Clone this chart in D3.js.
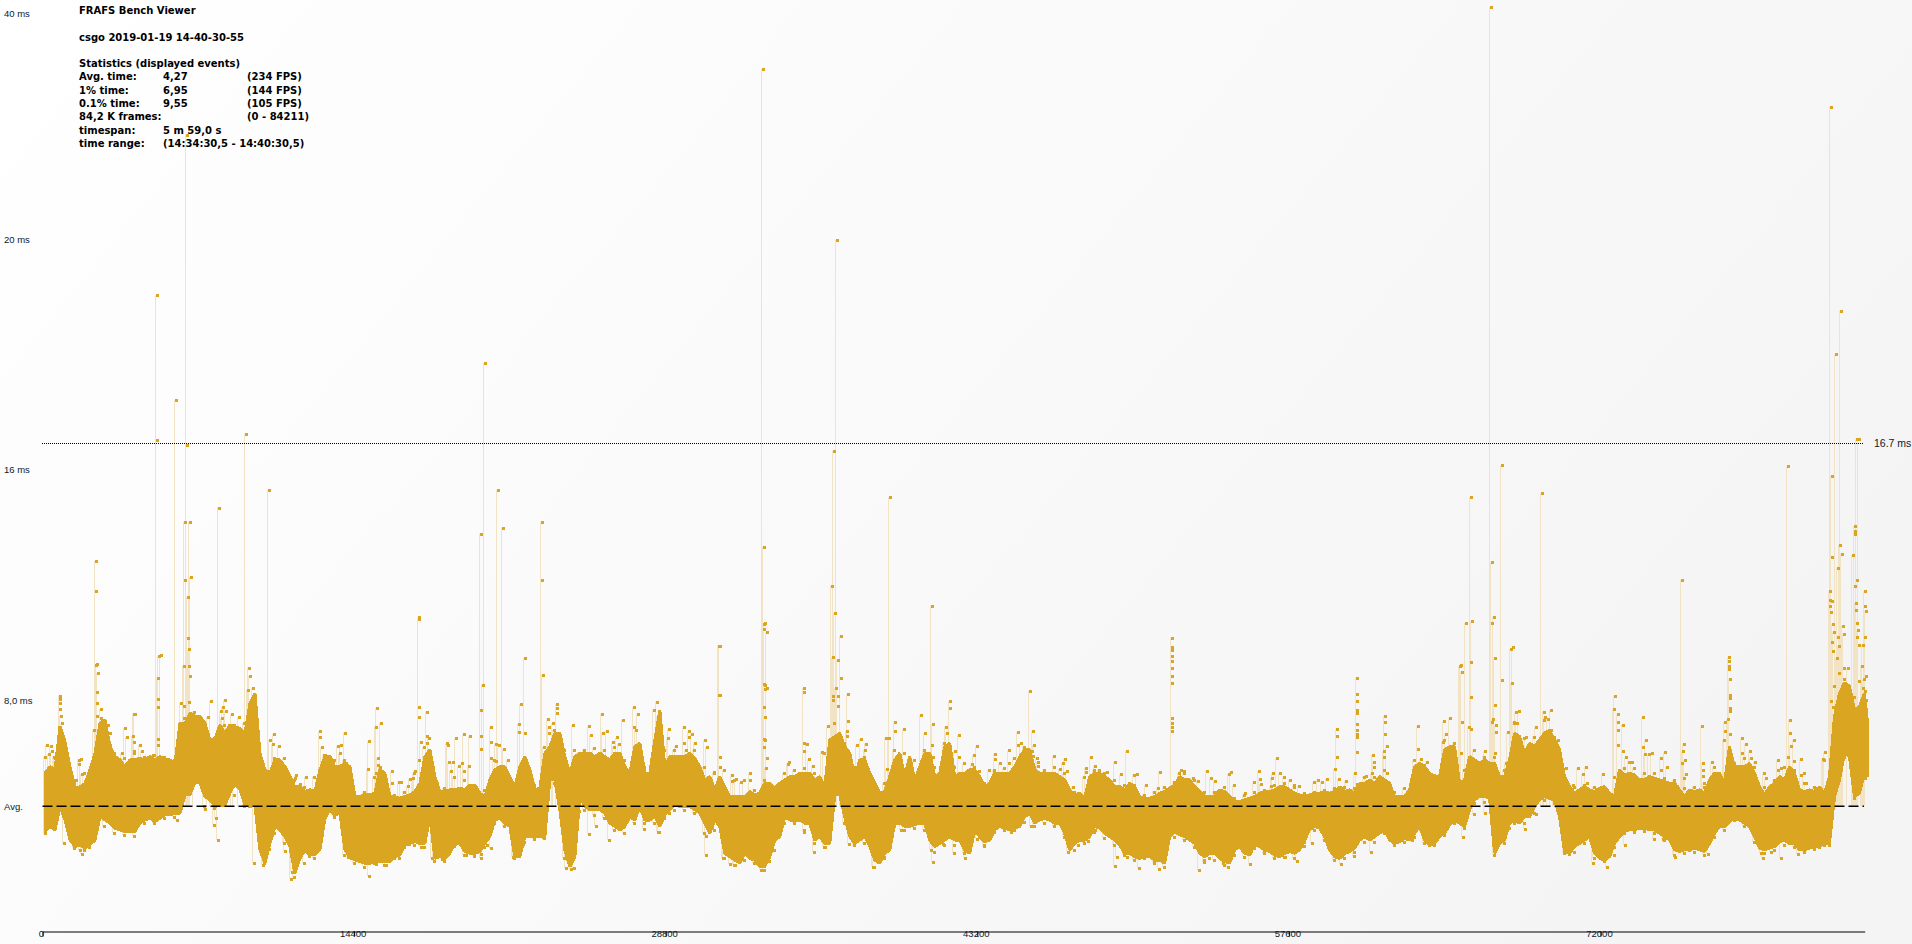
<!DOCTYPE html>
<html><head><meta charset="utf-8">
<style>html,body{margin:0;padding:0;background:#fff;overflow:hidden}svg{display:block}</style>
<script src="https://cdn.jsdelivr.net/npm/d3@7"></script></head><body>
<script>
const frameCount = 84211, columnStep = 462;
// upper edge of the dense frame-time band (ms), one value per column
const upperEnvelope = [
5.44,5.56,6.56,4.91,5.08,6.15,7.33,6.03,5.67,5.91,5.91,5.91,5.91,5.79,7.21,7.45,7.21,6.62,6.86,7.09,6.86,8.27,5.56,5.91,5.67,4.96,4.79,4.79,6.03,5.67,5.79,
4.61,4.67,4.73,5.44,4.61,4.61,4.79,6.03,5.32,4.79,4.85,4.85,5.02,4.61,5.56,5.67,4.96,6.03,4.85,6.15,6.86,6.03,6.03,6.15,6.03,6.03,6.15,5.67,6.38,5.44,6.62,
5.67,6.03,6.03,5.97,5.20,4.85,4.96,4.61,4.61,4.67,5.08,4.91,5.20,5.32,5.44,5.20,4.96,6.74,6.38,5.32,5.91,5.08,4.79,5.91,5.32,5.20,6.15,5.32,6.38,5.32,5.44,
5.56,4.96,5.44,5.44,5.67,6.27,5.56,5.44,5.44,5.20,4.67,4.55,5.44,5.32,4.96,4.85,4.96,4.55,4.61,4.79,5.02,5.20,4.96,4.61,4.61,4.79,4.43,4.49,4.61,4.79,4.85,
4.96,4.73,4.61,4.73,4.79,4.79,4.79,4.73,5.08,5.08,5.20,4.61,4.61,5.67,5.67,5.32,6.27,6.38,5.20,5.91,5.91,5.79,5.32,6.86,6.15,6.38,6.86,6.62,5.32,4.73,4.96,
4.79,4.96,4.61,5.38,5.38,5.20,5.26,5.14,5.08,4.61,4.79,4.73,5.44,5.08,5.67,5.67,5.44,4.67,5.08,5.20,5.44,4.79,4.79,4.73,7.45,8.63,7.68,8.27];
// lower edge of the dense band (ms)
const lowerEnvelope = [
3.37,3.43,3.78,2.84,2.78,3.07,3.78,3.49,3.37,3.37,3.78,3.72,3.96,4.02,4.67,5.14,4.61,4.26,4.31,5.08,4.31,4.31,2.25,3.55,3.19,1.89,2.72,2.54,3.84,3.96,2.72,
2.36,2.25,2.31,2.31,2.48,2.90,3.01,2.95,2.42,2.42,2.95,2.66,2.60,2.95,3.78,3.67,2.48,3.19,3.19,3.19,5.20,2.72,2.48,4.26,4.14,4.02,3.55,3.55,3.78,3.78,3.90,
3.96,4.31,4.26,4.14,3.67,3.78,2.60,2.36,2.60,2.36,2.13,3.07,3.90,3.78,3.67,3.07,2.95,4.67,3.90,2.95,3.19,2.36,2.60,3.67,3.55,3.61,3.67,2.84,3.07,3.07,2.72,
3.43,3.01,3.43,3.49,3.49,3.90,3.67,3.84,3.67,3.31,2.95,3.07,3.55,3.31,3.07,2.60,2.48,2.48,2.36,2.25,3.37,3.19,2.95,2.48,2.60,2.31,2.72,2.60,2.90,2.72,2.54,
2.60,2.60,3.07,3.55,3.19,2.48,2.60,2.78,3.19,3.19,3.43,2.95,3.13,3.31,3.07,2.95,3.31,3.78,3.55,4.49,4.61,2.60,3.07,3.78,3.90,4.26,4.61,4.49,2.66,2.84,3.07,
2.60,2.36,2.95,3.37,3.43,3.49,3.43,3.19,2.72,2.72,2.78,2.66,3.31,3.55,3.84,3.67,3.19,2.72,2.84,3.07,2.95,2.72,2.84,2.95,4.61,6.15,4.61,5.44];
// the same two edges read halfway between columns
const upperBetween = [
5.67,7.09,5.67,4.96,5.56,7.21,6.38,5.91,5.91,5.97,6.03,6.03,5.91,7.21,7.57,7.45,6.62,7.15,7.15,7.03,7.92,6.15,5.44,5.91,5.32,4.96,4.85,5.56,6.03,5.67,5.67,
4.61,4.67,5.56,4.61,4.55,4.67,5.08,6.27,4.79,4.85,4.91,5.02,4.73,5.20,5.67,5.32,5.67,5.56,4.91,6.38,6.86,5.44,6.15,6.15,6.15,5.91,6.15,5.44,6.50,5.44,7.68,
6.03,6.03,6.15,5.67,5.32,5.32,4.61,4.61,4.79,4.73,5.08,5.08,5.32,5.44,5.44,5.32,6.62,6.86,6.15,5.91,5.44,4.73,5.32,6.15,6.03,5.67,6.15,5.44,6.50,5.44,5.56,
5.32,5.08,5.44,5.44,6.03,6.27,5.44,5.44,5.32,4.85,4.73,5.32,5.44,5.20,4.96,5.08,4.61,4.55,4.73,4.91,5.32,5.20,4.79,4.61,4.85,4.61,4.43,4.55,4.73,4.79,4.96,
4.85,4.67,4.67,4.73,4.73,4.96,4.85,5.08,5.20,5.32,5.08,4.61,4.85,5.79,5.44,5.32,6.38,5.08,6.03,5.79,5.79,5.32,5.91,6.74,6.50,6.62,6.97,6.27,4.96,4.85,4.85,
4.91,4.73,5.56,5.44,5.20,5.32,5.20,5.08,4.85,4.85,4.85,5.20,5.44,6.38,5.67,5.79,4.96,4.96,5.32,5.67,4.85,4.85,4.96,5.32,8.27,8.51,7.80,7.33];
const lowerBetween = [
3.55,4.26,3.07,2.90,2.90,3.90,3.67,3.43,3.37,3.67,3.84,3.84,3.96,4.02,4.67,5.08,4.49,4.31,4.73,4.85,4.26,2.72,2.95,3.43,2.84,2.42,2.54,2.72,4.14,4.02,2.48,
2.31,2.25,2.31,2.31,2.54,2.95,2.95,3.90,2.48,2.60,2.95,2.60,2.66,3.19,3.84,3.55,2.48,3.19,3.19,5.20,4.14,2.13,4.61,4.14,4.14,3.67,3.43,3.90,4.26,3.78,3.55,
4.14,4.26,4.26,4.02,3.31,3.55,2.48,2.25,2.42,2.13,2.48,3.19,3.78,3.78,3.67,3.19,2.95,4.67,3.19,3.07,2.84,2.25,2.72,3.67,3.55,3.67,3.07,2.95,3.19,3.07,2.60,
3.19,3.07,3.55,3.43,3.55,4.02,3.78,3.78,3.67,2.72,3.07,3.19,3.49,3.19,2.90,2.60,2.42,2.48,2.36,3.19,3.25,3.07,2.60,2.60,2.42,2.25,2.84,2.54,2.84,2.66,2.48,
2.66,2.72,3.43,3.49,2.72,2.42,2.66,3.07,3.07,3.31,3.07,3.01,3.07,3.55,2.90,3.19,3.61,3.67,4.14,4.61,4.55,2.95,3.67,3.67,3.90,4.49,4.55,3.90,2.60,2.95,3.19,
2.42,2.48,3.19,3.43,3.49,3.43,3.31,3.07,2.66,2.72,2.72,2.95,3.55,3.72,3.78,3.55,2.78,2.78,3.01,2.95,2.72,2.78,2.84,2.95,5.20,6.03,4.73,5.32];
// outermost frames seen just beyond each edge, per column (ms)
const upperFringe = [
6.03,6.03,6.15,5.08,5.44,6.97,6.50,6.15,5.97,6.15,6.03,6.09,6.03,5.91,7.39,7.62,7.15,6.68,7.15,7.15,7.21,8.04,5.20,5.97,5.67,5.20,4.96,5.32,6.09,5.91,5.91,
4.79,4.79,5.32,4.85,4.67,4.79,5.44,6.38,5.02,4.91,5.32,5.20,5.02,4.85,5.91,5.56,5.08,5.91,5.02,6.38,6.97,6.27,6.27,6.27,6.33,6.27,6.38,5.91,7.09,5.67,7.68,
6.27,6.27,6.50,6.27,5.67,5.44,5.56,5.20,5.20,4.85,5.20,4.85,5.44,5.56,5.62,5.44,6.15,7.21,6.50,5.67,6.03,5.14,5.08,6.27,6.15,5.91,6.27,5.67,6.50,5.67,5.79,
5.67,5.08,5.56,5.62,5.97,6.38,5.67,5.56,5.67,5.44,4.79,5.32,5.56,5.44,5.20,5.02,5.02,4.67,4.79,4.96,5.14,5.44,5.20,4.79,4.79,4.96,4.55,4.67,4.79,4.85,5.02,
5.08,4.96,4.73,4.79,4.85,4.91,4.96,4.91,5.32,5.32,5.56,4.79,4.91,5.91,5.73,5.38,6.62,6.50,5.56,6.27,6.03,6.03,5.56,7.21,6.68,6.74,7.33,6.74,5.20,4.96,5.02,
4.96,4.96,5.32,5.62,5.62,5.44,5.44,5.26,5.20,4.91,4.96,4.96,5.67,6.62,5.79,5.97,5.67,4.96,5.20,5.67,5.56,5.08,4.96,5.91,8.51,8.75,8.15,8.75];
const lowerFringe = [
3.31,3.55,2.95,2.78,2.72,3.19,3.55,3.33,3.25,3.22,3.67,3.67,3.84,3.90,4.61,5.08,4.26,4.20,4.37,4.67,4.26,2.25,2.25,3.31,2.95,1.77,2.25,2.42,3.90,3.90,2.54,
2.25,2.13,2.25,2.19,2.42,2.81,2.90,2.84,2.34,2.34,2.86,2.54,2.51,2.81,3.67,3.55,2.42,3.01,3.10,3.13,5.08,2.42,2.07,4.14,3.96,3.84,3.43,3.31,3.67,3.67,3.67,
3.84,4.14,4.14,4.02,3.31,3.43,2.42,2.19,2.36,2.25,2.01,2.72,3.67,3.67,3.43,2.95,2.84,4.49,3.67,2.90,2.95,2.13,2.42,3.55,3.43,3.49,3.43,2.66,2.90,2.90,2.60,
3.31,2.90,3.37,3.43,3.43,3.72,3.55,3.67,3.55,3.19,2.72,2.95,3.37,3.13,2.90,2.54,2.36,2.42,2.25,2.13,3.19,3.07,2.84,2.36,2.36,2.19,2.54,2.48,2.78,2.60,2.42,
2.48,2.42,3.01,3.43,3.07,2.36,2.42,2.66,3.01,3.01,3.31,2.90,3.01,3.19,2.95,2.90,3.25,3.67,3.49,4.37,4.43,2.54,2.95,3.67,3.67,4.02,4.49,4.37,2.60,2.66,2.95,
2.42,2.31,2.84,3.31,3.37,3.40,3.33,3.07,2.54,2.60,2.66,2.54,3.19,3.43,3.78,3.55,3.01,2.60,2.72,2.90,2.84,2.63,2.74,2.90,4.49,6.03,4.55,5.32];
// tall isolated frames [frame, ms]
const spikeFrames = [
[5190,19.1],[5190,16.75],[5300,9.55],[6091,17.4],[6587,29.3],[6598,16.65],[6485,14.2],[6485,12.2],[6711,14.2],[6767,12.3],[6654,11.6],[8063,14.7],[9303,16.85],[10373,15.3],[2372,12.85],[2372,11.8],[2372,9.25],[17304,10.85],[20178,13.8],[20347,18.0],[20967,15.3],[21193,14],[22996,14.2],[22996,12.2],[31167,9.9],[31167,8.2],[33195,35.1],[33251,13.35],[33251,10.65],[33251,10.5],[33308,8.55],[33308,8.4],[36464,16.5],[36407,12.0],[36633,20],[39056,15.05],[41028,11.3],[66835,40.6],[65934,15.05],[67341,16.13],[66892,12.8],[66892,10.7],[69203,15.2],[75683,12.2],[80586,16.1],[82558,31.8],[82614,15.8],[82614,13],[82783,18.15],[83009,18.85],[83741,16.77],[83854,16.77],[83684,13.9],[83572,13.05],[65429,9.2],[65711,10.7],[67794,9.8],
[82990,13.4],[83090,13.1],[82900,12.6],[82530,11.8],[82530,11.5],[82620,11.45],[82530,11.3],[83680,14.05],[83680,13.8],[83770,12.2],[83680,12],[84150,11.8],[83730,11.4],[84150,11.3],[83130,10.6],[82650,10.65],[83770,10.7],[82620,10.05],[82900,10.2],[83770,10.2],[84140,10.2]];
// scattered frames above and below the band [frame, ms]
const scatterA = [
[110,6.44],[309,6.41],[186,6.12],[340,6.21],[463,5.97],[694,8.19],[694,8.06],[725,7.92],[725,7.72],[740,7.47],[817,7.21],[879,6.56],[1033,5.97],[1079,5.82],[1587,5.91],[1695,5.93],[1587,5.77],[1726,5.40],[1464,5.20],[2419,9.27],[2465,8.98],[2419,8.31],[2419,7.92],[2588,7.71],[2419,7.47],[2619,7.39],[2927,7.15],[2773,7.13],[3035,6.88],[2819,6.68],[2773,6.41],[3035,6.44],[3589,6.15],[3712,7.03],[3805,6.73],[4082,6.76],[4128,7.53],[4205,7.53],[4159,6.53],[4421,6.44],[4159,6.21],[4513,6.22],[5237,8.81],[5237,8.06],[5237,7.80],[5376,9.61],[5237,6.64],[5237,6.44],[5006,6.09],[6438,9.22],[6669,9.22],[6623,10.19],[6669,9.79],[6746,8.87],[6300,7.94],[6454,7.83],[6700,7.98],[7686,8.01],[8332,8.04],[8148,7.65],[8240,7.80],[8394,7.65],[8656,7.54],[8209,7.39],[8979,7.42],[7547,7.42],[9472,9.16],[9503,8.87],[9410,8.39],[9626,8.45],[10596,6.82],[10427,6.62],[10550,6.47],[10827,6.41],[11058,5.97],[11628,5.36],[11597,5.26],[12090,5.30],[11828,5.06],[12721,6.93],[12721,6.71],[12814,6.36],[12983,6.09],[13322,5.91],[13907,6.88],[13707,6.44],[13584,6.41],[13676,6.15],[13938,5.79],
[1726,2.57],[1618,2.70],[2049,2.81],[6115,3.78],[7408,4.16],[7932,3.84],[7855,3.61],[8024,3.07],[10088,2.19],[10119,2.46],[10396,2.76],[11104,2.68],[11428,1.95],[11382,1.68],[11628,2.28],[12244,2.51],[12521,2.66],[14015,2.48]];
const scatterB = [
[15358,7.74],[15543,7.21],[15342,7.09],[14988,6.57],[15404,5.97],[15404,5.73],[14942,5.58],[15512,5.67],[15327,5.44],[15512,5.38],[16051,5.51],[16066,5.08],[16374,5.12],[16482,5.14],[16913,5.23],[16790,5.0],[17144,5.52],[17021,5.26],[17329,10.9],[17329,7.78],[17329,7.45],[17668,7.62],[17391,6.56],[17329,5.91],[17668,6.76],[17791,6.68],[17668,6.50],[18130,5.08],[18592,6.50],[18638,6.43],[18684,5.83],[19008,6.68],[19377,6.82],[19654,6.75],[18900,5.83],[19146,5.70],[19285,5.79],[19639,5.71],[19408,5.53],[18792,5.52],[20255,8.57],[20163,7.67],[20163,6.77],[20163,6.29],[20625,7.07],[20625,6.56],[20871,6.47],[20625,5.97],[21025,6.44],[21225,6.30],[20871,5.89],[21441,5.91],[21302,5.62],[22195,9.48],[22011,7.88],[21949,7.18],[21918,6.89],[22226,6.88],[23027,8.91],[23258,7.36],[23304,7.09],[23304,6.87],[23673,7.88],[23673,7.74],[23673,7.57],[23520,7.21],[24444,7.14],[25183,7.10],[25260,6.79],[25753,7.54],[25830,6.88],[25984,6.94],[26723,7.32],[26446,6.71],[26261,6.53],[26538,6.47],[27262,7.78],[27416,7.54],[27339,6.97],[28294,7.97],[28340,7.45],
[14988,1.79],[14172,2.42],[15635,2.48],[15327,2.22],[15789,2.19],[16405,2.42],[17406,2.84],[16867,2.92],[17899,2.42],[18376,2.39],[18992,2.92],[19485,2.54],[20178,2.42],[20440,2.90],[20625,2.78],[20178,2.58],[21641,2.48],[22134,2.92],[23027,3.19],[24336,2.42],[24336,2.03],[24105,2.07],[24690,4.09],[25183,3.29],[25491,3.57],[26107,3.07],[26569,3.52],[27724,3.46],[28340,3.37]];
const scatterC = [
[28851,7.0],[29575,7.07],[28805,6.68],[28528,6.64],[29775,6.92],[29775,6.71],[29914,6.83],[29652,6.27],[29190,6.41],[30083,6.50],[30545,6.61],[30607,6.36],[31223,9.91],[31223,8.20],[31223,6.03],[31223,5.67],[30930,5.47],[31762,5.37],[31762,5.17],[31947,5.23],[32193,5.12],[32609,5.43],[32609,5.20],[33286,10.69],[33379,10.38],[33240,8.58],[33379,8.44],[33240,7.79],[33286,7.42],[33240,6.64],[33286,6.60],[33240,6.36],[33379,5.97],[33348,5.62],[34426,5.82],[34349,5.77],[35088,8.45],[35088,8.31],[35088,6.50],[35227,6.47],[35088,6.22],[35319,5.93],[35535,5.70],[35920,6.18],[36197,7.10],[36520,11.06],[36798,10.26],[36443,9.52],[36659,9.43],[36798,8.81],[36567,8.44],[36443,8.19],[36659,8.17],[36428,8.04],[36659,7.84],[37121,8.24],[37121,7.28],[37075,6.93],[37075,6.77],[37722,6.64],[37537,6.43],[37953,6.48],[37937,6.27],[38892,6.69],[39015,6.70],[39308,7.25],[39323,6.95],[39724,7.0],[38923,5.59],[40494,7.50],[40678,6.86],[41048,7.18],[41002,6.43],[41048,6.0],[41048,5.67],[41833,8.0],[41833,7.74],[41664,7.09],[42249,6.79],[41695,6.88],[42095,6.21],[42280,6.03],
[28851,4.02],[28420,3.37],[30576,3.22],[30576,2.54],[30838,3.52],[31346,2.42],[31700,2.22],[31931,2.19],[33117,2.01],[33471,2.34],[33548,2.74],[35088,3.37],[35550,2.66],[36074,2.81],[37167,2.92],[38276,2.13],[38815,2.46],[39585,3.43],[40971,2.72],[41048,2.29],[41541,2.93],[42018,2.60],[42526,2.45]];
const scatterD = [
[43084,6.40],[42945,6.08],[42853,5.76],[43207,5.52],[43638,5.54],[43915,6.11],[43946,5.93],[44147,5.79],[44562,6.25],[44562,5.79],[44978,6.89],[44978,6.43],[45117,6.50],[45532,8.35],[45671,6.93],[45733,6.43],[45625,6.22],[45671,6.05],[45856,5.99],[45902,5.85],[45902,5.71],[46641,6.04],[47149,5.94],[47088,5.79],[46934,5.58],[47242,5.51],[47550,4.94],[48120,5.62],[48120,5.50],[48381,6.0],[48535,5.69],[48751,5.56],[49090,5.50],[49459,5.85],[49737,5.40],[50014,6.24],[50476,5.40],[50368,5.37],[50892,5.02],[51538,5.50],[51446,4.93],
[52100,10.19],[52100,9.87],[52100,9.75],[52100,9.55],[52100,9.40],[52100,9.16],[52100,8.88],[52100,8.63],[52100,7.39],[52100,7.23],[52100,7.09],[52100,6.93],
[52678,5.51],[52509,5.54],[52416,5.44],[53094,5.28],[53294,5.18],[53710,5.53],[53895,5.28],[54079,5.18],[54172,4.79],[54849,5.47],[54726,5.40],[54957,5.01],[55466,4.73],[55881,5.12],[56112,5.51],[56189,5.23],[56204,5.06],[56944,5.97],[56759,5.44],[56713,5.28],[56682,4.97],
[43084,3.12],[43407,2.85],[44655,3.35],[45594,3.55],[47288,2.66],[47781,2.90],[48212,3.02],[48566,3.43],[49459,2.14],[49552,2.46],[50014,2.48],[50568,2.07],[51261,2.28],[51492,2.06],[53340,2.0],[53572,2.28],[53802,2.45],[54680,2.10],[54449,2.25],[55697,2.21],[56374,2.66],[56836,2.42]];
const scatterE = [
[57101,5.46],[57270,5.30],[57563,5.20],[57732,5.02],[57963,4.97],[58841,5.20],[59026,5.14],[59257,5.23],[58687,5.11],[59719,7.0],[59719,6.77],[59719,6.0],[59657,5.58],[59811,5.23],[60135,5.15],[60643,8.81],[60643,8.25],[60643,8.01],[60643,7.68],[60643,7.57],[60643,7.19],[60643,6.97],[60643,6.83],[60643,6.74],[60643,6.18],[60581,5.44],[60643,5.06],[60643,4.87],[61059,5.34],[61382,6.08],[61428,5.85],[61428,5.67],[61336,5.44],[61936,7.46],[61936,7.25],[61936,6.83],[62029,6.41],[61890,6.21],[61890,6.03],[62029,5.46],[63461,7.10],[63461,6.29],[63600,5.95],[63877,5.85],[63784,5.53],[64670,7.28],[64949,7.38],[64755,6.82],[64616,6.56],[65448,9.23],[65494,9.02],[65494,7.25],[65448,6.15],[65956,10.77],[65910,9.34],[65910,8.13],[65910,7.0],[65817,7.09],[66556,6.22],[66972,10.91],[67018,9.48],[67342,8.72],[67018,7.85],[66926,7.35],[66880,7.25],[67064,7.14],[67064,6.89],[67018,6.15],[67064,5.58],[67850,9.86],[67804,8.63],[67989,7.60],[68127,7.65],[67896,7.27],[68066,7.21],[67619,6.89],[67542,5.79],[68928,7.07],[68481,6.71],[69282,7.62],[69606,7.67],[69328,7.42],[69467,7.35],[69606,6.97],[69929,6.61],[70299,5.62],[70853,5.62],[71253,5.65],[71084,5.41],[71269,5.08],[70622,5.02],[70283,5.24],
[57332,2.46],[57871,2.32],[58194,2.85],[58564,2.96],[59904,2.21],[60504,2.49],[61290,2.64],[63184,3.07],[64000,2.90],[65540,3.17],[66048,3.98],[66556,4.02],[67665,3.51],[68435,3.47],[68928,3.98],[70437,2.57]];
const scatterF = [
[72011,5.41],[72565,8.17],[72519,7.71],[72704,7.53],[72704,7.27],[72704,6.97],[72935,7.16],[72704,6.45],[72935,6.22],[73074,6.0],[73243,5.85],[73351,5.82],[73859,7.42],[73997,6.61],[73859,6.36],[73951,6.11],[74167,6.12],[74275,6.14],[74691,5.97],[74875,6.18],[74968,5.65],[74691,5.54],[75753,6.49],[75707,6.22],[75799,5.90],[75676,5.79],[75846,5.40],[75769,5.26],[75430,4.98],[76600,7.10],[76631,5.79],[76631,5.56],[76631,5.34],[77047,5.82],[76677,5.08],[77863,9.52],[77863,9.40],[77863,9.22],[77863,9.10],[77878,8.77],[77878,8.22],[77878,8.10],[77878,7.74],[77878,7.66],[77786,7.35],[77663,7.25],[77663,6.94],[77878,6.82],[78433,6.68],[78617,6.47],[78433,6.15],[78802,6.21],[78848,5.97],[79033,5.82],[79449,5.44],[79542,5.26],[80096,5.90],[80235,5.62],[80096,5.54],[80650,7.34],[80681,6.86],[80835,6.61],[80696,6.40],[80558,6.0],[80835,5.86],[81159,5.94],[81159,5.37],[81297,5.44],[81390,5.08],[82267,6.18],[82175,5.94],
[82545,11.08],[82683,10.40],[83145,10.33],[82637,9.73],[82914,9.91],[82837,9.49],[82914,8.98],[83145,9.16],[83330,9.13],[82545,8.01],[82637,7.78],[83792,10.47],[83838,9.93],[84038,9.94],[83715,11.14],[84161,11.11],[83992,9.22],[84161,8.88],[83838,8.69],[84023,8.45],[84115,8.33],[84161,8.04],[84161,7.62],[83869,7.45],
[71549,2.27],[72196,2.11],[72519,2.53],[73027,2.89],[74367,3.10],[74783,3.12],[75337,2.46],[76015,2.70],[76862,2.58],[79311,2.60],[79403,2.42],[79788,2.64],[80250,2.42],[81020,2.57],[82021,2.81],[82452,2.90],[84130,5.26]];

const scatterFrames = [...scatterA,...scatterB,...scatterC,...scatterD,...scatterE,...scatterF];
const timeTicks = [0,14400,28800,43200,57600,72000];
const msTicks = [40,20,16,8];
const msLabels = ["40 ms","20 ms","16 ms","8,0 ms"];
const avgTime = 4.27, vsyncTime = 16.7;
const infoRows = [
 ["FRAFS Bench Viewer"],
 ["csgo 2019-01-19 14-40-30-55"],
 ["Statistics (displayed events)"],
 ["Avg. time:","4,27","(234 FPS)"],
 ["1% time:","6,95","(144 FPS)"],
 ["0.1% time:","9,55","(105 FPS)"],
 ["84,2 K frames:","","(0 - 84211)"],
 ["timespan:","5 m 59,0 s",""],
 ["time range:","(14:34:30,5 - 14:40:30,5)",""]];

const W=1912,H=944;
const svg=d3.select("body").append("svg").attr("width",W).attr("height",H);
const grad=svg.append("defs").append("linearGradient").attr("id","bg").attr("gradientUnits","userSpaceOnUse")
 .attr("x1",0).attr("y1",0).attr("x2",W*0.75).attr("y2",H*1.25);
grad.append("stop").attr("offset",0).attr("stop-color","#ffffff");
grad.append("stop").attr("offset",1).attr("stop-color","#f4f4f4");
svg.append("rect").attr("width",W).attr("height",H).attr("fill","url(#bg)");

const x=d3.scaleLinear().domain([0,frameCount]).range([42.5,1864.7]);
const y=d3.scaleLinear().domain([0,8,16,16.7,20,40]).range([926.6,701,470,443.5,240,14]);
const gold="#daa520", stemCol="#f1e3c4";

const fringePts=[
  ...upperFringe.map((v,i)=>[Math.min(i*columnStep,frameCount),v]),
  ...lowerFringe.map((v,i)=>[Math.min(i*columnStep,frameCount),v])];
const allPts=[...spikeFrames,...scatterFrames,...fringePts];
svg.append("g").selectAll("line").data(allPts).join("line")
 .attr("x1",d=>Math.round(x(d[0]))+0.5).attr("x2",d=>Math.round(x(d[0]))+0.5)
 .attr("y1",d=>y(d[1])).attr("y2",d=>y(avgTime))
 .attr("stroke",stemCol).attr("stroke-width",1);

// interleave the on-column and between-column readings into one band
const band=d3.merge(upperEnvelope.map((v,i)=>[
  {f:i*columnStep,hi:v,lo:lowerEnvelope[i]},
  {f:Math.min(i*columnStep+columnStep/2,frameCount),hi:upperBetween[i],lo:lowerBetween[i]}]));
const area=d3.area().x(d=>x(d.f)+2.5).y0(d=>y(d.lo)).y1(d=>y(d.hi)).curve(d3.curveLinear);
svg.append("path").datum(band).attr("d",area).attr("fill",gold).attr("stroke",gold).attr("stroke-width",3).attr("stroke-linejoin","bevel").attr("shape-rendering","crispEdges");

svg.append("g").selectAll("rect").data(allPts).join("rect")
 .attr("x",d=>Math.round(x(d[0]))+1).attr("y",d=>Math.round(y(d[1]))-1)
 .attr("width",3).attr("height",3).attr("fill",gold);

svg.append("line").attr("x1",x(0)).attr("x2",1864).attr("y1",y(avgTime)).attr("y2",y(avgTime))
 .attr("stroke","#000").attr("stroke-width",1.4).attr("stroke-dasharray","10 4");
svg.append("line").attr("x1",42).attr("x2",1863).attr("y1",y(vsyncTime)).attr("y2",y(vsyncTime))
 .attr("stroke","#000").attr("stroke-width",1).attr("stroke-dasharray","1 1");

const tickFont='"Liberation Sans",sans-serif';
const yl=svg.append("g").attr("font-family",tickFont).attr("font-size",9.5).attr("fill","#0c1a2b");
yl.selectAll("text").data(msTicks).join("text").attr("x",4).attr("y",d=>y(d)).attr("dy","0.35em").text((d,i)=>msLabels[i]);
yl.append("text").attr("x",4).attr("y",y(avgTime)).attr("dy","0.35em").text("Avg.");
yl.append("text").attr("x",1874).attr("y",y(vsyncTime)).attr("dy","0.35em").attr("font-size",10.5).text("16.7 ms");

const axis=d3.axisBottom(x).tickValues(timeTicks).tickFormat(d=>String(d)).tickSize(5).tickSizeOuter(0).tickPadding(0);
const ax=svg.append("g").attr("transform","translate(0,931.5)").call(axis);
ax.select(".domain").attr("stroke","#000").attr("stroke-width",1);
ax.selectAll(".tick line").attr("stroke","#000");
ax.selectAll("text").attr("font-family",tickFont).attr("font-size",9.5).attr("fill","#0c1a2b").attr("dx",-1.5).attr("dy",0.5);

const infoY=[10,37,63,76,90,103,116,130,143];
const infoX=[79,163,247];
const info=svg.append("g").attr("font-family",'"DejaVu Sans",sans-serif').attr("font-weight",700).attr("font-size",10).attr("fill","#000");
infoRows.forEach((r,i)=>{
  r.forEach((t,j)=>{ if(t) info.append("text").attr("x",infoX[j]).attr("y",infoY[i]).attr("dy","0.35em").text(t); });
});
</script></body></html>
